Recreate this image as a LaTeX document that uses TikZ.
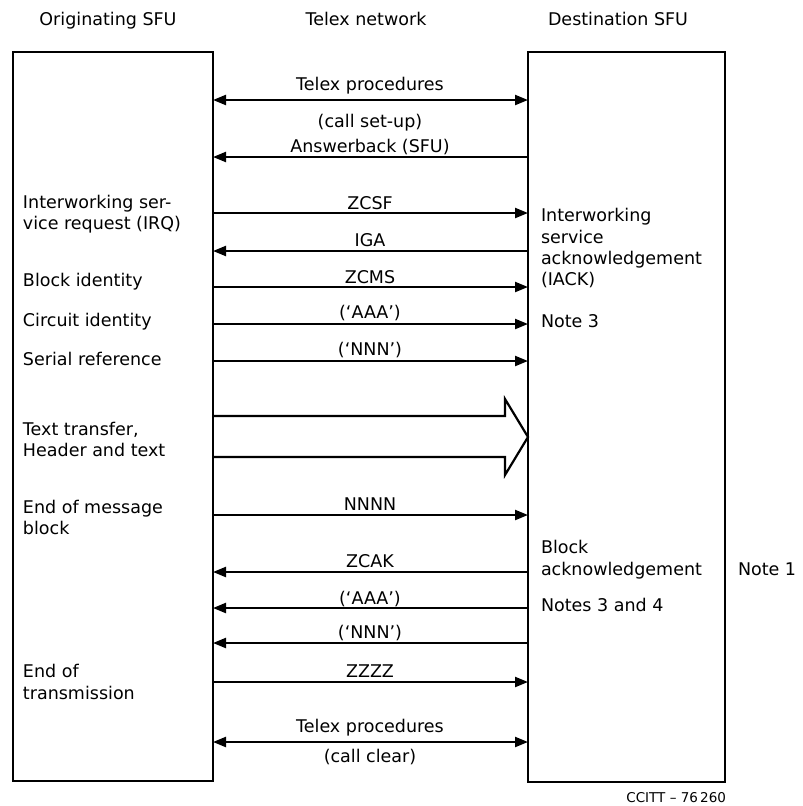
\documentclass[tikz,border=0pt]{standalone}
\usepackage{fontspec}
\setmainfont{DejaVu Sans}
\usetikzlibrary{arrows.meta}
\begin{document}
\begin{tikzpicture}[x=1pt,y=-1pt,
  every node/.style={inner sep=0pt, outer sep=0pt, font=\fontsize{17.5}{21}\selectfont},
  sfubox/.style={draw, line width=2.8pt},
  msg/.style={line width=2.2pt, -{Triangle[length=13pt,width=10pt]}},
  msgboth/.style={line width=2.2pt, {Triangle[length=13pt,width=10pt]}-{Triangle[length=13pt,width=10pt]}},
  lbl/.style={anchor=base},
  ltxt/.style={anchor=base west},
  head/.style={anchor=base}]
\useasboundingbox (0,0) rectangle (803,806);

% headings
\node[head] (h1) at (108,25) {Originating SFU};
\node[head] (h2) at (366,25) {Telex network};
\node[head] (h3) at (618,25) {Destination SFU};

% boxes
\node[sfubox, minimum width=200pt, minimum height=729pt] (orig) at (113,416.5) {};
\node[sfubox, minimum width=197pt, minimum height=730pt] (dest) at (626.5,417) {};

% messages
\draw[msgboth] (orig.east |- 0,100) -- (dest.west |- 0,100);
\node[lbl] (t1) at (370,90) {Telex procedures};
\node[lbl] (t1b) at (370,127) {(call set-up)};

\draw[msg] (dest.west |- 0,157) -- (orig.east |- 0,157);
\node[lbl] (t2) at (370,152) {Answerback (SFU)};

\draw[msg] (orig.east |- 0,213) -- (dest.west |- 0,213);
\node[lbl] (t3) at (370,209) {ZCSF};

\draw[msg] (dest.west |- 0,251) -- (orig.east |- 0,251);
\node[lbl] (t4) at (370,246) {IGA};

\draw[msg] (orig.east |- 0,287) -- (dest.west |- 0,287);
\node[lbl] (t5) at (370,283) {ZCMS};

\draw[msg] (orig.east |- 0,324) -- (dest.west |- 0,324);
\node[lbl] (t6) at (370,318) {(`AAA')};

\draw[msg] (orig.east |- 0,361) -- (dest.west |- 0,361);
\node[lbl] (t7) at (370,355) {(`NNN')};

% hollow arrow
\draw[line width=2.2pt, line join=miter] (orig.east |- 0,416) -- (505,416) -- (505,399) -- (dest.west |- 0,437) -- (505,475) -- (505,457) -- (orig.east |- 0,457);

\draw[msg] (orig.east |- 0,515) -- (dest.west |- 0,515);
\node[lbl] (t8) at (370,510) {NNNN};

\draw[msg] (dest.west |- 0,572) -- (orig.east |- 0,572);
\node[lbl] (t9) at (370,567) {ZCAK};

\draw[msg] (dest.west |- 0,608) -- (orig.east |- 0,608);
\node[lbl] (t10) at (370,604) {(`AAA')};

\draw[msg] (dest.west |- 0,643) -- (orig.east |- 0,643);
\node[lbl] (t11) at (370,638) {(`NNN')};

\draw[msg] (orig.east |- 0,682) -- (dest.west |- 0,682);
\node[lbl] (t12) at (370,677) {ZZZZ};

\draw[msgboth] (orig.east |- 0,742) -- (dest.west |- 0,742);
\node[lbl] (t13) at (370,732) {Telex procedures};
\node[lbl] (t13b) at (370,762) {(call clear)};

% left texts
\node[ltxt] (l1) at (23,208) {Interworking ser-};
\node[ltxt] (l2) at (23,229) {vice request (IRQ)};
\node[ltxt] (l3) at (23,286) {Block identity};
\node[ltxt] (l4) at (23,326) {Circuit identity};
\node[ltxt] (l5) at (23,365) {Serial reference};
\node[ltxt] (l6) at (23,435) {Text transfer,};
\node[ltxt] (l7) at (23,456) {Header and text};
\node[ltxt] (l8) at (23,513) {End of message};
\node[ltxt] (l9) at (23,534) {block};
\node[ltxt] (l10) at (23,677) {End of};
\node[ltxt] (l11) at (23,699) {transmission};

% right texts
\node[ltxt] (r1) at (541,221) {Interworking};
\node[ltxt] (r2) at (541,243) {service};
\node[ltxt] (r3) at (541,264) {acknowledgement};
\node[ltxt] (r4) at (541,285) {(IACK)};
\node[ltxt] (r5) at (541,327) {Note 3};
\node[ltxt] (r6) at (541,553) {Block};
\node[ltxt] (r7) at (541,575) {acknowledgement};
\node[ltxt] (r8) at (541,611) {Notes 3 and 4};
\node[ltxt] (n1) at (738,575) {Note 1};

\node[anchor=base east, font=\fontsize{13.5}{16}\selectfont] (cc) at (726,802) {CCITT -- 76\,260};
\end{tikzpicture}
\end{document}
